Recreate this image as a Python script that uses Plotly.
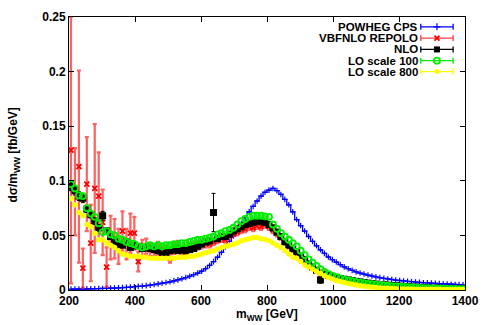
import plotly.graph_objects as go

# bin centres (12 GeV bins from 200 to 1400 GeV)
mww = [206 + 12 * i for i in range(100)]

powheg = [
    0.0008, 0.0008, 0.0009, 0.0009, 0.0010, 0.0011, 0.0012, 0.0013, 0.0014, 0.0015,
    0.0017, 0.0018, 0.0020, 0.0022, 0.0024, 0.0027, 0.0030, 0.0033, 0.0036, 0.0040,
    0.0044, 0.0050, 0.0056, 0.0062, 0.0068, 0.0075, 0.0084, 0.0093, 0.0103, 0.0114,
    0.0126, 0.0140, 0.0155, 0.0172, 0.0195, 0.0225, 0.0260, 0.0300, 0.0345, 0.0395,
    0.0445, 0.0495, 0.0550, 0.0605, 0.0660, 0.0715, 0.0765, 0.0815, 0.0860, 0.0895,
    0.0915, 0.0930, 0.0910, 0.0875, 0.0830, 0.0780, 0.0715, 0.0645, 0.0590, 0.0540,
    0.0490, 0.0445, 0.0405, 0.0368, 0.0335, 0.0302, 0.0278, 0.0256, 0.0233, 0.0212,
    0.0195, 0.0180, 0.0166, 0.0155, 0.0146, 0.0137, 0.0128, 0.0120, 0.0113, 0.0107,
    0.0101, 0.0096, 0.0091, 0.0087, 0.0083, 0.0079, 0.0076, 0.0073, 0.0070, 0.0067,
    0.0065, 0.0063, 0.0061, 0.0059, 0.0057, 0.0055, 0.0053, 0.0051, 0.0049, 0.0047,
]

repolo = [
    0.128, 0.090, 0.113, 0.020, 0.097, 0.043, 0.093, 0.086, 0.062, 0.021,
    0.048, 0.047, 0.040, 0.054, 0.042, 0.052, 0.052, 0.026, 0.038, 0.040,
    0.037, 0.036, 0.038, 0.034, 0.036, 0.029, 0.038, 0.040, 0.035, 0.037,
    0.039, 0.040, 0.041, 0.042, 0.043, 0.042, 0.044, 0.046, 0.047, 0.046,
    0.050, 0.052, 0.053, 0.055, 0.056, 0.058, 0.057, 0.059, 0.058, 0.060,
    0.058, 0.055, 0.052, 0.048, 0.044, 0.040, 0.037, 0.034, 0.030, 0.027,
    0.023, 0.021, 0.018, 0.016, 0.0145, 0.015, 0.013, 0.012, 0.011, 0.0102,
    0.0095, 0.0088, 0.0081, 0.0075, 0.0069, 0.0064, 0.0059, 0.0055, 0.0051, 0.0047,
    0.0044, 0.0041, 0.0038, 0.0036, 0.0033, 0.0031, 0.0029, 0.0027, 0.0025, 0.0023,
    0.0021, 0.0020, 0.0018, 0.0017, 0.0016, 0.0015, 0.0014, 0.0013, 0.0012, 0.0011,
]
repolo_err = [
    0.122, 0.040, 0.088, 0.018, 0.043, 0.035, 0.059, 0.040, 0.030, 0.018,
    0.020, 0.018, 0.016, 0.018, 0.014, 0.018, 0.015, 0.009, 0.008, 0.007,
    0.006, 0.005, 0.006, 0.005, 0.005, 0.004, 0.005, 0.005, 0.004, 0.004,
    0.004, 0.004, 0.004, 0.004, 0.004, 0.003, 0.003, 0.003, 0.003, 0.003,
    0.003, 0.003, 0.003, 0.003, 0.003, 0.003, 0.003, 0.003, 0.003, 0.003,
    0.003, 0.003, 0.003, 0.002, 0.002, 0.002, 0.002, 0.002, 0.002, 0.002,
    0.002, 0.002, 0.002, 0.002, 0.0015, 0.0015, 0.0015, 0.0015, 0.0012, 0.0012,
    0.0012, 0.0012, 0.001, 0.001, 0.001, 0.001, 0.001, 0.001, 0.001, 0.001,
    0.0008, 0.0008, 0.0008, 0.0008, 0.0008, 0.0008, 0.0008, 0.0008, 0.0008, 0.0008,
    0.0006, 0.0006, 0.0006, 0.0006, 0.0006, 0.0006, 0.0006, 0.0006, 0.0006, 0.0006,
]

nlo = [
    0.095, 0.091, 0.086, 0.084, 0.074, 0.069, 0.063, 0.057, 0.068, 0.054,
    0.049, 0.045, 0.042, 0.041, 0.044, 0.039, 0.041, 0.040, 0.038, 0.039,
    0.038, 0.037, 0.036, 0.032, 0.034, 0.036, 0.037, 0.036, 0.037, 0.036,
    0.037, 0.038, 0.040, 0.042, 0.044, 0.045, 0.071, 0.047, 0.049, 0.049,
    0.051, 0.054, 0.056, 0.058, 0.060, 0.061, 0.062, 0.063, 0.063, 0.062,
    0.060, 0.057, 0.053, 0.049, 0.044, 0.041, 0.038, 0.035, 0.031, 0.028,
    0.024, 0.021, 0.018, 0.0092, 0.0145, 0.0135, 0.0125, 0.0115, 0.0105, 0.0098,
    0.0092, 0.0086, 0.0079, 0.0074, 0.0068, 0.0063, 0.0058, 0.0054, 0.0003, 0.0047,
    0.0044, 0.0041, 0.0038, 0.0035, 0.0033, 0.0031, 0.0003, 0.0027, 0.0025, 0.0023,
    0.0021, 0.0004, 0.0018, 0.0017, 0.0015, 0.0014, 0.0013, 0.0012, 0.0011, 0.0010,
]
nlo_err = [
    0.004, 0.004, 0.004, 0.004, 0.003, 0.003, 0.003, 0.003, 0.004, 0.003,
    0.002, 0.002, 0.002, 0.002, 0.002, 0.002, 0.002, 0.002, 0.002, 0.002,
    0.002, 0.002, 0.002, 0.002, 0.002, 0.002, 0.002, 0.002, 0.002, 0.002,
    0.002, 0.002, 0.002, 0.002, 0.002, 0.002, 0.0175, 0.002, 0.002, 0.002,
    0.002, 0.002, 0.002, 0.002, 0.002, 0.002, 0.002, 0.002, 0.002, 0.002,
    0.002, 0.002, 0.002, 0.002, 0.002, 0.002, 0.002, 0.002, 0.002, 0.002,
    0.001, 0.001, 0.001, 0.003, 0.001, 0.001, 0.001, 0.001, 0.001, 0.001,
    0.001, 0.001, 0.001, 0.001, 0.001, 0.001, 0.001, 0.001, 0.001, 0.001,
    0.001, 0.001, 0.001, 0.001, 0.001, 0.001, 0.001, 0.001, 0.001, 0.001,
    0.001, 0.001, 0.001, 0.001, 0.001, 0.001, 0.001, 0.001, 0.001, 0.001,
]

lo100 = [
    0.097, 0.093, 0.0866, 0.086, 0.075, 0.070, 0.067, 0.061, 0.053, 0.054,
    0.051, 0.050, 0.047, 0.046, 0.044, 0.043, 0.042, 0.040, 0.039, 0.040,
    0.041, 0.040, 0.041, 0.040, 0.041, 0.041, 0.042, 0.042, 0.043, 0.043,
    0.044, 0.045, 0.046, 0.046, 0.047, 0.048, 0.049, 0.051, 0.052, 0.054,
    0.055, 0.057, 0.060, 0.063, 0.065, 0.067, 0.068, 0.068, 0.068, 0.0675,
    0.067, 0.060, 0.056, 0.052, 0.049, 0.046, 0.043, 0.040, 0.036, 0.032,
    0.028, 0.025, 0.022, 0.019, 0.0165, 0.0145, 0.013, 0.0118, 0.0106, 0.0095,
    0.0087, 0.0080, 0.0074, 0.0068, 0.0062, 0.0057, 0.0053, 0.0049, 0.0045, 0.0042,
    0.0039, 0.0036, 0.0033, 0.0031, 0.0029, 0.0026, 0.0024, 0.0022, 0.0020, 0.0018,
    0.0017, 0.0015, 0.0014, 0.0013, 0.0012, 0.0011, 0.0010, 0.0009, 0.0008, 0.0007,
]

lo800 = [
    0.0836, 0.078, 0.071, 0.068, 0.060, 0.058, 0.052, 0.046, 0.046, 0.043,
    0.041, 0.039, 0.036, 0.033, 0.032, 0.031, 0.031, 0.031, 0.030, 0.030,
    0.029, 0.029, 0.029, 0.029, 0.029, 0.029, 0.029, 0.030, 0.030, 0.030,
    0.031, 0.031, 0.032, 0.033, 0.034, 0.035, 0.036, 0.0375, 0.039, 0.040,
    0.041, 0.042, 0.043, 0.045, 0.046, 0.047, 0.048, 0.048, 0.047, 0.0465,
    0.045, 0.043, 0.041, 0.039, 0.036, 0.033, 0.030, 0.029, 0.026, 0.023,
    0.021, 0.019, 0.017, 0.015, 0.013, 0.0115, 0.010, 0.0088, 0.0077, 0.0068,
    0.0060, 0.0052, 0.0045, 0.0040, 0.0035, 0.0030, 0.0026, 0.0022, 0.0019, 0.0017,
    0.0015, 0.0013, 0.0012, 0.0011, 0.0010, 0.0009, 0.0009, 0.0008, 0.0008, 0.0007,
    0.0007, 0.0006, 0.0006, 0.0006, 0.0005, 0.0005, 0.0005, 0.0004, 0.0004, 0.0004,
]

names = ["POWHEG CPS", "VBFNLO REPOLO", "NLO", "LO scale 100", "LO scale 800"]
x_ticks = [200, 400, 600, 800, 1000, 1200, 1400]
y_ticks = [0, 0.05, 0.1, 0.15, 0.2, 0.25]
y_tick_text = ["0", "0.05", "0.1", "0.15", "0.2", "0.25"]

FONT = "Liberation Sans, Arial, sans-serif"
BLUE = "#0000ff"
RED = "#ff0000"
GREEN = "#00ee00"
YELLOW = "#ffff00"

fig = go.Figure()

# POWHEG CPS (histogram-like steps with small crosses)
fig.add_trace(go.Scatter(
    x=mww, y=powheg, mode="lines+markers", line=dict(color=BLUE, width=1.3, shape="hvh"),
    marker=dict(symbol="cross-thin", size=4, color=BLUE, line=dict(color=BLUE, width=1.2)),
    showlegend=False))
# VBFNLO REPOLO
fig.add_trace(go.Scatter(
    x=mww, y=repolo, mode="markers",
    marker=dict(symbol="x-thin", size=5, color=RED, line=dict(color=RED, width=1.8)),
    error_y=dict(type="data", array=repolo_err, color="rgba(255,30,30,0.7)", thickness=2.2, width=2),
    showlegend=False))
# NLO
fig.add_trace(go.Scatter(
    x=mww, y=nlo, mode="markers",
    marker=dict(symbol="square", size=7, color="black"),
    error_y=dict(type="data", array=nlo_err, color="black", thickness=1, width=2),
    showlegend=False))
# LO scale 100
fig.add_trace(go.Scatter(
    x=mww, y=lo100, mode="markers",
    marker=dict(symbol="circle-open", size=6, color=GREEN, line=dict(color=GREEN, width=1.8)),
    showlegend=False))
# LO scale 800
fig.add_trace(go.Scatter(
    x=mww, y=lo800, mode="markers",
    marker=dict(symbol="circle", size=5.5, color=YELLOW),
    showlegend=False))

# gnuplot-style key: text on the left, errorbar sample on the right
key_x = 1315
key_half = 49
key_y = [0.241, 0.2307, 0.2203, 0.2100, 0.2000]
key_styles = [
    dict(marker=dict(symbol="cross-thin", size=5, color=BLUE, line=dict(color=BLUE, width=1.2)), color=BLUE),
    dict(marker=dict(symbol="x-thin", size=5, color=RED, line=dict(color=RED, width=1.8)), color="rgba(255,30,30,0.85)"),
    dict(marker=dict(symbol="square", size=6, color="black"), color="black"),
    dict(marker=dict(symbol="circle-open", size=6, color=GREEN, line=dict(color=GREEN, width=1.8)), color=GREEN),
    dict(marker=dict(symbol="circle", size=5, color=YELLOW), color=YELLOW),
]
for name, ky, st in zip(names, key_y, key_styles):
    fig.add_trace(go.Scatter(
        x=[key_x], y=[ky], mode="markers", marker=st["marker"],
        error_x=dict(type="constant", value=key_half, color=st["color"], thickness=1.3, width=3),
        showlegend=False, hoverinfo="skip"))
    fig.add_annotation(x=1265, y=ky, xref="x", yref="y", text="<b>%s</b>" % name,
                       showarrow=False, xanchor="right", yanchor="middle",
                       font=dict(family=FONT, size=11.5, color="black"))

axis_common = dict(showline=True, linecolor="black", linewidth=1, mirror="allticks",
                   ticks="inside", ticklen=5, tickcolor="black", showgrid=False, zeroline=False,
                   tickfont=dict(family=FONT, size=12, color="black", weight="bold"))
fig.update_xaxes(range=[200, 1400], tickvals=x_ticks, **axis_common)
fig.update_yaxes(range=[0, 0.25], tickvals=y_ticks, ticktext=y_tick_text, **axis_common)

fig.add_annotation(x=0.5, y=-0.09, xref="paper", yref="paper", showarrow=False,
                   text="<b>m<sub>WW</sub> [GeV]</b>", xanchor="center", yanchor="middle",
                   font=dict(family=FONT, size=12, color="black"))
fig.add_annotation(x=-0.139, y=0.496, xref="paper", yref="paper", showarrow=False,
                   text="<b>dσ/m<sub>WW</sub> [fb/GeV]</b>", textangle=-90,
                   xanchor="center", yanchor="middle",
                   font=dict(family=FONT, size=12, color="black"))

fig.update_layout(width=489, height=325, margin=dict(l=69, r=16, t=10, b=35),
                  plot_bgcolor="white", paper_bgcolor="white")

# remove the default 8px page margin so the figure fills the window exactly
fig.write_html("out.html", config={"displayModeBar": False},
               post_script="document.body.style.margin='0';")
